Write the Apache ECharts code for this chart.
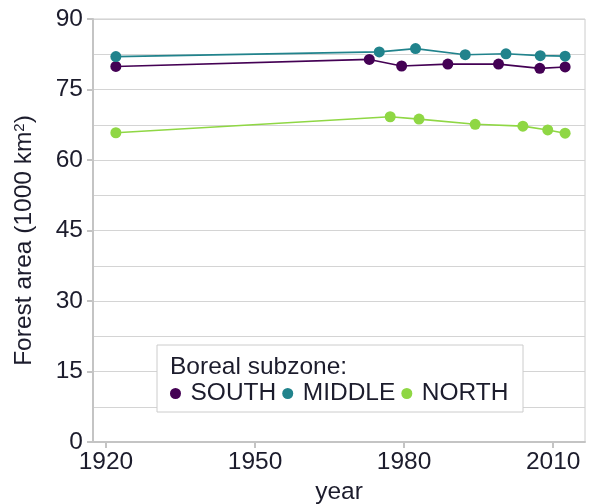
<!DOCTYPE html>
<html>
<head>
<meta charset="utf-8">
<script src="https://cdn.jsdelivr.net/npm/echarts@6/dist/echarts.min.js"></script>
<style>
  html, body { margin: 0; padding: 0; background: #fff; }
  #chart { width: 589px; height: 504px; }
</style>
</head>
<body>
<div id="chart"></div>
<script>
// Forest area by boreal subzone (1000 km²)
const southYears = [1922, 1973, 1979.5, 1988.8, 1999, 2007.3, 2012.4];
const southArea  = [79.9, 81.4, 80.0, 80.4, 80.4, 79.5, 79.8];

const middleYears = [1922, 1975, 1982.3, 1992.3, 2000.5, 2007.4, 2012.4];
const middleArea  = [82.0, 83.0, 83.7, 82.4, 82.6, 82.2, 82.1];

const northYears = [1922, 1977.2, 1983, 1994.3, 2003.9, 2008.9, 2012.4];
const northArea  = [65.8, 69.2, 68.7, 67.6, 67.2, 66.4, 65.7];

const xTicks = [1920, 1950, 1980, 2010];
const seriesNames = ['SOUTH', 'MIDDLE', 'NORTH'];
const legendTitle = 'Boreal subzone:';

const colors = ['#440154', '#21838c', '#8fd744'];
const textColor = '#1c1c2c';
const font = "'Liberation Sans', Arial, sans-serif";
const fs = 24.5;

function pairs(xs, ys) { return xs.map((x, i) => [x, ys[i]]); }

const chart = echarts.init(document.getElementById('chart'));

const mkSeries = (name, xs, ys, color) => ({
  name: name,
  type: 'line',
  data: pairs(xs, ys),
  symbol: 'circle',
  symbolSize: 11,
  itemStyle: { color: color },
  lineStyle: { color: color, width: 1.6 },
  emphasis: { disabled: true }
});

chart.setOption({
  animation: false,
  backgroundColor: '#fff',
  textStyle: { fontFamily: font },
  grid: {
    left: 93, right: 4, top: 19, bottom: 62,
    containLabel: false,
    outerBoundsMode: 'none',
    show: true, borderColor: '#cccccc', borderWidth: 1
  },
  xAxis: {
    type: 'value',
    min: 1917.4,
    max: 2016.4,
    name: 'year',
    nameLocation: 'middle',
    nameGap: 38,
    nameTextStyle: { color: textColor, fontSize: fs, fontFamily: font },
    axisLine: { show: true, lineStyle: { color: '#c4c4c4', width: 2 } },
    axisTick: { show: true, length: 6, lineStyle: { color: '#c4c4c4', width: 2 }, customValues: xTicks },
    axisLabel: {
      color: textColor, fontSize: fs, fontFamily: font, margin: 8,
      customValues: xTicks,
      formatter: v => String(v)
    },
    splitLine: { show: false }
  },
  yAxis: {
    type: 'value',
    min: 0,
    max: 90,
    interval: 15,
    name: '{a|Forest area (1000 km}{s|2}{a|)}',
    nameLocation: 'middle',
    nameGap: 56,
    nameRotate: 90,
    nameTextStyle: {
      padding: [0, 20, 0, 0],
      rich: {
        a: { color: textColor, fontSize: fs, fontFamily: font },
        s: { color: textColor, fontSize: 15, fontFamily: font, verticalAlign: 'top', padding: [0, 0, 10, 0] }
      }
    },
    axisLine: { show: true, lineStyle: { color: '#c4c4c4', width: 2 } },
    axisTick: { show: true, length: 6, lineStyle: { color: '#c4c4c4', width: 2 } },
    axisLabel: { color: textColor, fontSize: fs, fontFamily: font, margin: 10 },
    splitLine: { show: true, lineStyle: { color: '#d4d4d4', width: 1 } },
    minorTick: { show: false, splitNumber: 2 },
    minorSplitLine: { show: true, lineStyle: { color: '#d4d4d4', width: 1 } }
  },
  legend: {
    data: seriesNames,
    z: 20,
    left: 170,
    top: 381,
    icon: 'circle',
    itemWidth: 12,
    itemHeight: 11,
    itemGap: 6,
    padding: 0,
    textStyle: { color: textColor, fontSize: fs, fontFamily: font, padding: [0, 0, 0, 4] }
  },
  graphic: [
    {
      type: 'rect',
      z: 1,
      shape: { x: 157, y: 345, width: 366, height: 67 },
      style: { fill: '#ffffff', stroke: '#cccccc', lineWidth: 1 }
    },
    {
      type: 'text',
      z: 2,
      left: 170,
      top: 355,
      style: { text: legendTitle, fill: textColor, fontSize: fs, fontFamily: font }
    }
  ],
  series: [
    mkSeries(seriesNames[0], southYears, southArea, colors[0]),
    mkSeries(seriesNames[1], middleYears, middleArea, colors[1]),
    mkSeries(seriesNames[2], northYears, northArea, colors[2])
  ]
});
</script>
</body>
</html>
